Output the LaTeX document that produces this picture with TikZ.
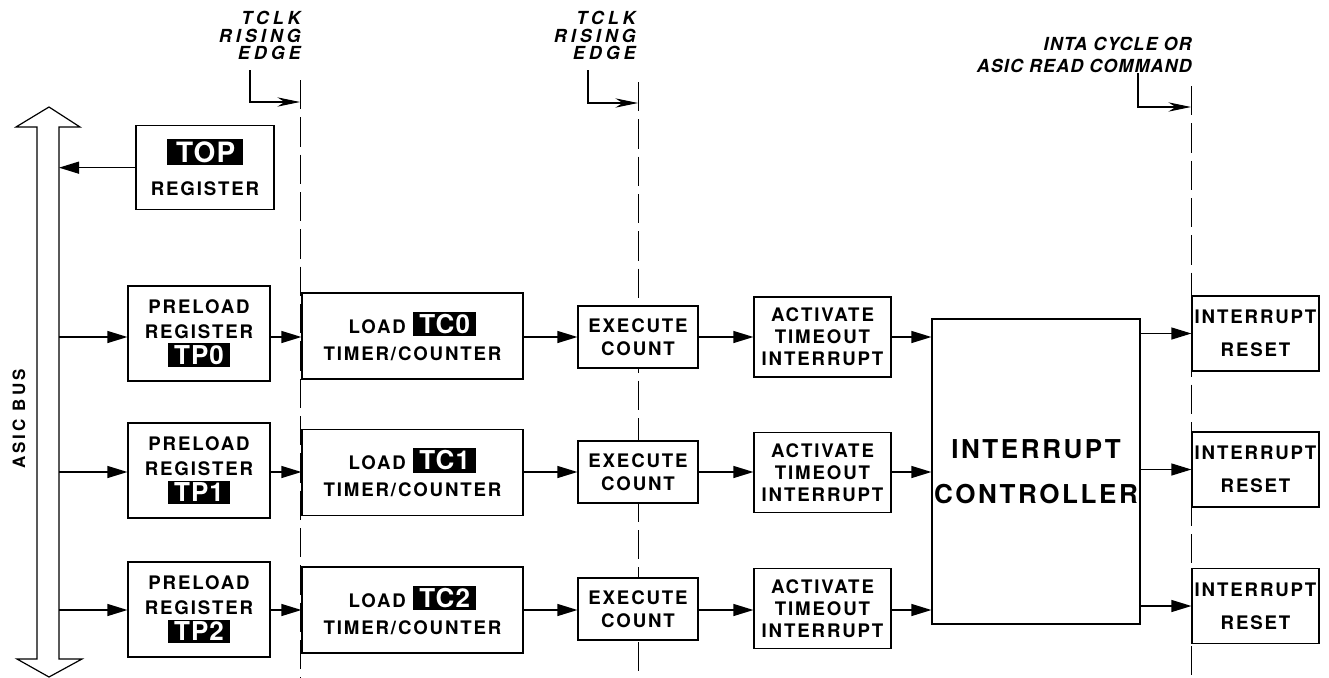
\documentclass[tikz,border=0pt]{standalone}
\usepackage{fontspec}
\setmainfont{TeX Gyre Heros}
\newfontfamily\boxfont{TeX Gyre Heros}[LetterSpace=10]
\newfontfamily\busfont{TeX Gyre Heros}[LetterSpace=18]
\newfontfamily\invfont{TeX Gyre Heros}[LetterSpace=4]
\usetikzlibrary{arrows.meta}
\newcommand{\blk}[1]{{\setlength{\fboxsep}{1.8pt}\colorbox{black}{\hspace{3pt}\textcolor{white}{\invfont\bfseries\fontsize{19.5}{19.5}\selectfont #1}\hspace{3pt}}}}
\newcommand{\blkT}[1]{{\setlength{\fboxsep}{1.8pt}\colorbox{black}{\hspace{5pt}\textcolor{white}{\invfont\bfseries\fontsize{21}{21}\selectfont #1}\hspace{4pt}}}}
\begin{document}
\begin{tikzpicture}[x=0.75pt,y=-0.75pt,
  box/.style={draw, line width=0.9pt, fill=white, align=center, inner sep=0pt},
  txt/.style={font={\boxfont\bfseries\fontsize{14}{#1}\selectfont}},
  arr/.style={line width=0.9pt, -{Triangle[length=15pt,width=9pt]}},
  larr/.style={line width=0.8pt, -{Stealth[length=17pt,width=7pt]}},
  dashln/.style={line width=0.75pt, dash pattern=on 22pt off 6pt},
  lab/.style={font={\rmfamily\bfseries\itshape\addfontfeatures{LetterSpace=22}\fontsize{13.5}{13.2}\selectfont}, inner sep=0pt},
  lab3/.style={font={\rmfamily\bfseries\itshape\addfontfeatures{LetterSpace=6}\fontsize{13.5}{16.5}\selectfont}, inner sep=0pt}]
\useasboundingbox (0,0) rectangle (1329,678);

% clock / command timing lines
\coordinate (d1t) at (300,80);  \coordinate (d1b) at (300,678);
\coordinate (d2t) at (638,82);  \coordinate (d2b) at (638,678);
\coordinate (d3t) at (1191,86); \coordinate (d3b) at (1191,678);
\draw[dashln] (d1t) -- (d1b);
\draw[dashln] (d2t) -- (d2b);
\draw[dashln] (d3t) -- (d3b);

% labels of timing lines
\node[lab, anchor=north east, align=right] (l1) at (301,11) {TCLK\\RISING\\EDGE};
\node[lab, anchor=north east, align=right] (l2) at (636,11) {TCLK\\RISING\\EDGE};
\node[lab3, anchor=north east, align=right] (l3) at (1192,37) {INTA CYCLE OR\\ASIC READ COMMAND};
\coordinate (k1) at (250,70);  \coordinate (e1) at (300,102);
\coordinate (k2) at (588,70);  \coordinate (e2) at (638,103);
\coordinate (k3) at (1138,73); \coordinate (e3) at (1191,107);
\draw[larr] (k1) |- (e1);
\draw[larr] (k2) |- (e2);
\draw[larr] (k3) |- (e3);

% ASIC bus
\draw[line width=0.9pt, fill=white] (49,107) -- (80,127) -- (59,127) -- (59,659) -- (82,659) -- (49,677) -- (17,659) -- (37,659) -- (37,127) -- (16,127) -- cycle;
\coordinate (busR) at (59,0);
\node[rotate=90, inner sep=0pt, font={\busfont\bfseries\fontsize{12.75}{14}\selectfont}] (bus) at (19,419) {ASIC BUS};

% rows
\coordinate (r1) at (0,337);
\coordinate (r2) at (0,472);
\coordinate (r3) at (0,610);

% boxes
\node[box, txt=24.75, minimum width=103.5pt, minimum height=63pt, yshift=-2pt] (top) at (205,165) {\blkT{TOP}\\REGISTER};

\node[box, txt=18.75, minimum width=106.5pt, minimum height=71.25pt] (tp0) at (199,333.5) {PRELOAD\\REGISTER\\[1pt]\blk{TP0}};
\node[box, txt=18.75, minimum width=106.5pt, minimum height=71.25pt] (tp1) at (199,470.5) {PRELOAD\\REGISTER\\[1pt]\blk{TP1}};
\node[box, txt=18.75, minimum width=106.5pt, minimum height=71.25pt] (tp2) at (199,609.5) {PRELOAD\\REGISTER\\[1pt]\blk{TP2}};

\node[box, txt=20, minimum width=165.75pt, minimum height=64.5pt] (tc0) at (412.5,336) {LOAD \blk{TC0}\\TIMER/COUNTER};
\node[box, txt=20, minimum width=165.75pt, minimum height=64.5pt] (tc1) at (412.5,472.5) {LOAD \blk{TC1}\\TIMER/COUNTER};
\node[box, txt=20, minimum width=165.75pt, minimum height=64.5pt] (tc2) at (412.5,610) {LOAD \blk{TC2}\\TIMER/COUNTER};

\node[box, txt=17, minimum width=90pt, minimum height=46.5pt] (ex0) at (638,337) {EXECUTE\\COUNT};
\node[box, txt=17, minimum width=90pt, minimum height=46.5pt] (ex1) at (638,472) {EXECUTE\\COUNT};
\node[box, txt=17, minimum width=90pt, minimum height=46.5pt] (ex2) at (638,609) {EXECUTE\\COUNT};

\node[box, txt=16.5, minimum width=102.75pt, minimum height=60pt] (act0) at (822.5,337) {ACTIVATE\\TIMEOUT\\INTERRUPT};
\node[box, txt=16.5, minimum width=102.75pt, minimum height=60pt] (act1) at (822.5,472.5) {ACTIVATE\\TIMEOUT\\INTERRUPT};
\node[box, txt=16.5, minimum width=102.75pt, minimum height=60pt] (act2) at (822.5,608.5) {ACTIVATE\\TIMEOUT\\INTERRUPT};

\node[box, font={\boxfont\bfseries\fontsize{19.5}{33.75}\selectfont}, minimum width=156pt, minimum height=228.75pt] (ic) at (1036,471.5) {INTERRUPT\\CONTROLLER};

\node[box, txt=24.75, minimum width=95.25pt, minimum height=56.25pt] (rst0) at (1255.5,333.5) {INTERRUPT\\RESET};
\node[box, txt=24.75, minimum width=95.25pt, minimum height=56.25pt] (rst1) at (1255.5,469.5) {INTERRUPT\\RESET};
\node[box, txt=24.75, minimum width=95.25pt, minimum height=56.25pt] (rst2) at (1255.5,606) {INTERRUPT\\RESET};

% connectors
\draw[arr] (top.west) -- (busR |- top.west);
\foreach \i/\r in {0/r1,1/r2,2/r3}{
  \draw[arr] (busR |- \r) -- (tp\i.west |- \r);
  \draw[arr] (tp\i.east |- \r) -- (tc\i.west |- \r);
  \draw[arr] (tc\i.east |- \r) -- (ex\i.west |- \r);
  \draw[arr] (ex\i.east |- \r) -- (act\i.west |- \r);
  \draw[arr] (act\i.east |- \r) -- (ic.west |- \r);
  \draw[arr] (ic.east |- rst\i.west) -- (rst\i.west);
}
\end{tikzpicture}
\end{document}
